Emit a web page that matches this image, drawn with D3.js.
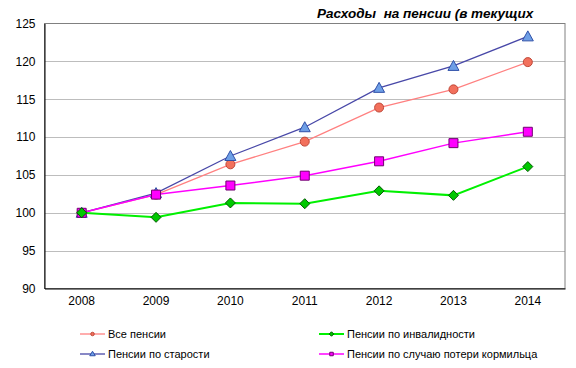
<!DOCTYPE html>
<html>
<head>
<meta charset="utf-8">
<script src="https://cdn.jsdelivr.net/npm/d3@7"></script>
<style>
  body { margin: 0; background: #fff; }
  text { font-family: Arial, 'Liberation Sans', sans-serif; }
</style>
</head>
<body>
<script>
const years = ['2008', '2009', '2010', '2011', '2012', '2013', '2014']
const yTicks = [90, 95, 100, 105, 110, 115, 120, 125]
const allPensions = [100, 102.4, 106.4, 109.4, 113.9, 116.3, 119.9]
const oldAge = [100, 102.6, 107.5, 111.3, 116.5, 119.4, 123.3]
const disability = [100, 99.4, 101.3, 101.2, 102.9, 102.3, 106.1]
const survivor = [100, 102.4, 103.6, 104.9, 106.8, 109.2, 110.7]
const seriesNames = ['Все пенсии', 'Пенсии по инвалидности', 'Пенсии по старости', 'Пенсии по случаю потери кормильца']
const title = 'Расходы  на пенсии (в текущих'

const width = 576
const height = 368
const margin = { top: 23.5, right: 11, bottom: 79.5, left: 44.5 }

const series = [
  { name: seriesNames[0], values: allPensions, line: '#ff8080', fill: '#f2705c', stroke: '#c04838', shape: 'circle', lw: 1.3 },
  { name: seriesNames[2], values: oldAge, line: '#4848a8', fill: '#6e9fe6', stroke: '#3050a8', shape: 'triangle', lw: 1.3 },
  { name: seriesNames[3], values: survivor, line: '#ff00ff', fill: '#ff00ff', stroke: '#700070', shape: 'square', lw: 1.5 },
  { name: seriesNames[1], values: disability, line: '#00f000', fill: '#00c800', stroke: '#005a00', shape: 'diamond', lw: 2 }
]

const svg = d3.select('body')
  .append('svg')
  .attr('width', width)
  .attr('height', height)

const x = d3.scaleBand()
  .domain(years)
  .range([margin.left, width - margin.right])

const y = d3.scaleLinear()
  .domain([90, 125])
  .range([height - margin.bottom, margin.top])

// grid
svg.append('g')
  .selectAll('line')
  .data(yTicks.slice(1, -1))
  .enter()
  .append('line')
  .attr('x1', margin.left)
  .attr('x2', width - margin.right)
  .attr('y1', d => Math.round(y(d)) + 0.5)
  .attr('y2', d => Math.round(y(d)) + 0.5)
  .attr('stroke', '#bdbdbd')

svg.append('rect')
  .attr('x', margin.left)
  .attr('y', margin.top)
  .attr('width', width - margin.right - margin.left)
  .attr('height', height - margin.bottom - margin.top)
  .attr('fill', 'none')
  .attr('stroke', '#808080')

// axes
const yAxis = svg.append('g')
  .attr('transform', 'translate(' + margin.left + ',0)')
  .call(d3.axisLeft(y).tickValues(yTicks).tickSize(0).tickPadding(9))
yAxis.select('.domain').attr('stroke', '#000')
yAxis.selectAll('text').attr('font-size', 12).attr('fill', '#000')

const xAxis = svg.append('g')
  .attr('transform', 'translate(0,' + (height - margin.bottom) + ')')
  .call(d3.axisBottom(x).tickSize(0).tickPadding(8))
xAxis.select('.domain').attr('stroke', '#000')
xAxis.selectAll('text').attr('font-size', 12).attr('fill', '#000')

// title
svg.append('text')
  .attr('x', 317)
  .attr('y', 18)
  .attr('font-size', 13.5)
  .attr('font-weight', 'bold')
  .attr('font-style', 'italic')
  .attr('fill', '#000')
  .style('white-space', 'pre')
  .text(title)

const cx = (d, i) => x(years[i]) + x.bandwidth() / 2

function marker (g, shape, size) {
  if (shape === 'circle') {
    return g.append('circle').attr('r', size / 2)
  }
  let p
  const h = size / 2
  if (shape === 'square') p = [[-h, -h], [h, -h], [h, h], [-h, h]]
  if (shape === 'diamond') p = [[0, -h - 0.5], [h + 0.5, 0], [0, h + 0.5], [-h - 0.5, 0]]
  if (shape === 'triangle') p = [[0, -h - 1], [h + 1, h], [-h - 1, h]]
  return g.append('polygon').attr('points', p.map(d => d.join(',')).join(' '))
}

const line = d3.line()
  .x(cx)
  .y(d => y(d))

series.forEach(s => {
  svg.append('path')
    .datum(s.values)
    .attr('d', line)
    .attr('fill', 'none')
    .attr('stroke', s.line)
    .attr('stroke-width', s.lw)
})

series.forEach(s => {
  s.values.forEach((v, i) => {
    const g = svg.append('g')
      .attr('transform', 'translate(' + cx(v, i) + ',' + y(v) + ')')
    marker(g, s.shape, 9)
      .attr('fill', s.fill)
      .attr('stroke', s.stroke)
      .attr('stroke-width', 1)
  })
})

// legend
const legendItems = [
  { s: series[0], x: 80, y: 334 },
  { s: series[3], x: 319, y: 334 },
  { s: series[1], x: 80, y: 354 },
  { s: series[2], x: 319, y: 354 }
]

legendItems.forEach(d => {
  const g = svg.append('g').attr('transform', 'translate(' + d.x + ',' + d.y + ')')
  g.append('line')
    .attr('x1', 0)
    .attr('x2', 25)
    .attr('stroke', d.s.line)
    .attr('stroke-width', d.s.lw)
  const m = g.append('g').attr('transform', 'translate(12.5,0)')
  marker(m, d.s.shape, 3.5)
    .attr('fill', d.s.fill)
    .attr('stroke', d.s.stroke)
    .attr('stroke-width', 1)
  g.append('text')
    .attr('x', 28)
    .attr('y', 4)
    .attr('font-size', 11)
    .attr('fill', '#000')
    .text(d.s.name)
})
</script>
</body>
</html>
